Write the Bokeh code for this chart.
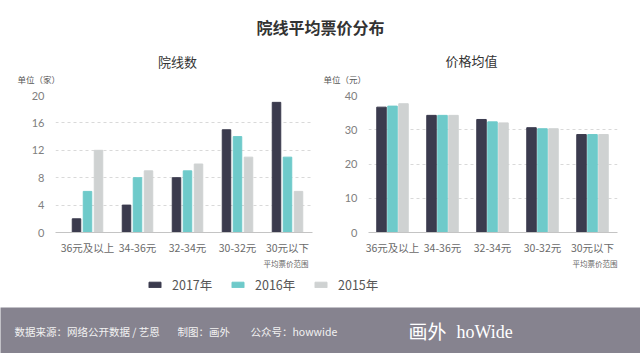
from bokeh.plotting import figure
from bokeh.layouts import column, row
from bokeh.models import Range1d, FixedTicker, Label, Legend, LegendItem, ColumnDataSource
from bokeh.transform import dodge
from bokeh.embed import file_html
from bokeh.resources import INLINE

categories = ["36元及以上", "34-36元", "32-34元", "30-32元", "30元以下"]
years = ["2017年", "2016年", "2015年"]
count_2017 = [2, 4, 8, 15, 19]
count_2016 = [6, 8, 9, 14, 11]
count_2015 = [12, 9, 10, 11, 6]
price_2017 = [36.6, 34.2, 33.0, 30.6, 28.6]
price_2016 = [36.9, 34.2, 32.3, 30.3, 28.6]
price_2015 = [37.6, 34.2, 32.0, 30.3, 28.6]
count_ticks = [0, 4, 8, 12, 16, 20]
price_ticks = [0, 10, 20, 30, 40]
colors = ["#3b3b4e", "#6ecaca", "#cfd2d2"]

CJK = "Noto Sans CJK SC"
NUM = "Lato"


def bare(h, bg="white"):
    p = figure(width=640, height=h, x_range=Range1d(0, 1), y_range=Range1d(0, 1),
               toolbar_location=None, output_backend="svg", min_border=0,
               x_axis_location=None, y_axis_location=None,
               background_fill_color=bg, border_fill_color=bg)
    p.xgrid.visible = False
    p.ygrid.visible = False
    p.outline_line_color = None
    return p


def txt(p, text, x, y, size, color, align="left", font=CJK, style="normal", baseline="middle"):
    p.add_layout(Label(x=x, y=y, x_units="screen", y_units="screen", text=text,
                       text_font=font, text_font_size=size, text_color=color,
                       text_font_style=style, text_align=align, text_baseline=baseline))


def panel(series, ymax, ticks, bl, br, bt, xstart, bw):
    p = figure(width=320, height=171, x_range=Range1d(xstart, 4.5), y_range=Range1d(0, ymax),
               min_border_left=bl, min_border_right=br, min_border_top=bt, min_border_bottom=21,
               toolbar_location=None, output_backend="svg", outline_line_color=None,
               background_fill_color="white", border_fill_color="white")
    src = ColumnDataSource(dict(x=list(range(len(categories))), a=series[0], b=series[1], c=series[2]))
    for key, off, col in zip(["a", "b", "c"], [-0.22, 0.0, 0.22], colors):
        p.vbar(x=dodge("x", off), top=key, width=bw, color=col, source=src)
    p.xgrid.visible = False
    p.ygrid.grid_line_color = "#d9d9d9"
    p.ygrid.grid_line_dash = "3 3"
    p.ygrid.grid_line_width = 1
    p.yaxis.ticker = FixedTicker(ticks=ticks)
    p.yaxis.axis_line_color = None
    p.yaxis.major_tick_line_color = None
    p.yaxis.minor_tick_line_color = None
    p.yaxis.major_label_text_font = NUM
    p.yaxis.major_label_text_font_size = "11px"
    p.yaxis.major_label_text_color = "#808080"
    p.yaxis.major_label_standoff = 5
    p.xaxis.ticker = FixedTicker(ticks=list(range(len(categories))))
    p.xaxis.major_label_overrides = {i: c for i, c in enumerate(categories)}
    p.xaxis.axis_line_color = "#c4c4c4"
    p.xaxis.major_tick_line_color = None
    p.xaxis.minor_tick_line_color = None
    p.xaxis.major_label_text_font = CJK
    p.xaxis.major_label_text_font_size = "10.5px"
    p.xaxis.major_label_text_color = "#6a6a6a"
    p.xaxis.major_label_standoff = 1
    return p


left = panel([count_2017, count_2016, count_2015], 20, count_ticks, 55, 8, 7, -0.64, 0.17)
right = panel([price_2017, price_2016, price_2015], 40, price_ticks, 48, 23, 9, -0.48, 0.19)

# header: main title, subtitles, units
head = bare(86)
txt(head, "院线平均票价分布", 320, 60, "16px", "#333333", "center", style="bold")
txt(head, "院线数", 177, 25, "13px", "#333333", "center")
txt(head, "价格均值", 471, 26, "13px", "#333333", "center")
txt(head, "单位（家）", 17, 8, "8.5px", "#555555")
txt(head, "单位（元）", 323, 8, "8.5px", "#555555")

# legend strip with axis notes
leg = bare(50)
txt(leg, "平均票价范围", 308, 50, "7.5px", "#666666", "right", baseline="top")
txt(leg, "平均票价范围", 617, 50, "7.5px", "#666666", "right", baseline="top")
items = []
for i, (yr, col) in enumerate(zip(years, colors)):
    r = leg.vbar(x=[i], top=[-1], bottom=[-2], width=0.1, color=col)
    items.append(LegendItem(label=yr, renderers=[r]))
legend = Legend(items=items, orientation="horizontal", location=(147, 13.5),
                glyph_width=15, glyph_height=7, label_standoff=10, spacing=16, label_width=42,
                padding=0, margin=0, border_line_color=None, background_fill_alpha=0,
                label_text_font=CJK, label_text_font_size="12.5px", label_text_color="#555555")
leg.add_layout(legend)

# footer
FOOT = "#86838f"
foot = bare(46, FOOT)
txt(foot, "数据来源：网络公开数据 / 艺恩", 14, 22, "10.5px", "#f2f2f2")
txt(foot, "制图：画外", 177, 22, "10.5px", "#f2f2f2")
txt(foot, "公众号：howwide", 250, 22, "10.5px", "#f2f2f2")
txt(foot, "画外", 408, 23, "19px", "#ffffff")
txt(foot, "hoWide", 456, 22, "18px", "#ffffff", font="Liberation Serif")

layout = column(head, row(left, right), leg, foot, spacing=0)
open("out.html", "w").write(file_html(layout, INLINE))
